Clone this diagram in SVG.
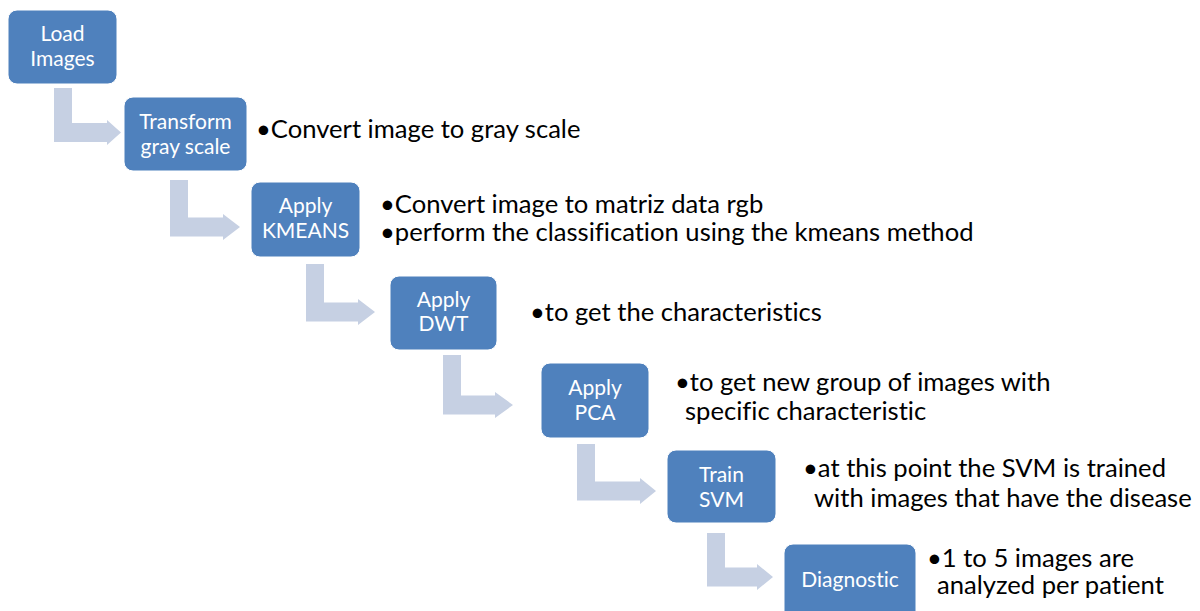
<svg xmlns="http://www.w3.org/2000/svg" width="1200" height="611" viewBox="0 0 1200 611">
<style>
.box{fill:#4F81BD;stroke:#FFFFFF;stroke-width:1}
.bt{font-family:Lato,"Liberation Sans",sans-serif;font-size:21px;fill:#FFFFFF;text-anchor:middle;font-variant-ligatures:none}
.tx{font-family:Lato,"Liberation Sans",sans-serif;font-size:25.6px;fill:#000000;font-variant-ligatures:none}
.arr{fill:#C6D0E3}
</style>
<rect width="1200" height="611" fill="#FFFFFF"/>
<g id="connectors">
<path class="arr" d="M54,88 H72 V123 H107 V120 L121,132.5 L107,145 V142 H54 Z"/>
<path class="arr" d="M170,180 H188 V217.5 H223 V214 L240,227 L223,240 V236.5 H170 Z"/>
<path class="arr" d="M306,264 H324 V302.5 H358 V299 L375,312 L358,325 V321.5 H306 Z"/>
<path class="arr" d="M443,355 H461 V395.5 H495 V392 L513,405 L495,418 V414.5 H443 Z"/>
<path class="arr" d="M577,444 H595 V481.5 H640 V478 L656,491 L640,504 V500.5 H577 Z"/>
<path class="arr" d="M707,533 H725 V567.5 H757 V564 L773,577 L757,590 V586.5 H707 Z"/>
</g>
<g id="load">
<rect class="box" x="8" y="10" width="109" height="74" rx="9"/>
<text class="bt" x="62.5" y="41">Load</text>
<text class="bt" x="62.5" y="66">Images</text>
</g>
<g id="transform">
<rect class="box" x="124" y="97" width="123" height="74" rx="9"/>
<text class="bt" x="185.5" y="129">Transform</text>
<text class="bt" x="185.5" y="154">gray scale</text>
<text class="tx" x="256" y="138">•Convert image to gray scale</text>
</g>
<g id="kmeans">
<rect class="box" x="251" y="182" width="109" height="75" rx="9"/>
<text class="bt" x="305.5" y="213">Apply</text>
<text class="bt" x="305.5" y="238">KMEANS</text>
<text class="tx" x="380" y="213">•Convert image to matriz data rgb</text>
<text class="tx" x="380" y="241">•perform the classification using the kmeans method</text>
</g>
<g id="dwt">
<rect class="box" x="390" y="276" width="107" height="74" rx="9"/>
<text class="bt" x="443.5" y="307">Apply</text>
<text class="bt" x="443.5" y="331">DWT</text>
<text class="tx" x="530" y="321">•to get the characteristics</text>
</g>
<g id="pca">
<rect class="box" x="541" y="363" width="108" height="75" rx="9"/>
<text class="bt" x="595" y="395">Apply</text>
<text class="bt" x="595" y="420">PCA</text>
<text class="tx" x="675" y="391">•to get new group of images with</text>
<text class="tx" x="685" y="420">specific characteristic</text>
</g>
<g id="svm">
<rect class="box" x="667" y="450" width="109" height="73" rx="9"/>
<text class="bt" x="721.5" y="482">Train</text>
<text class="bt" x="721.5" y="507">SVM</text>
<text class="tx" x="803" y="477">•at this point the SVM is trained</text>
<text class="tx" x="814" y="507">with images that have the disease</text>
</g>
<g id="diagnostic">
<rect class="box" x="784" y="544" width="132" height="80" rx="9"/>
<text class="bt" x="850" y="587">Diagnostic</text>
<text class="tx" x="927" y="567">•1 to 5 images are</text>
<text class="tx" x="937" y="594">analyzed per patient</text>
</g>
</svg>
